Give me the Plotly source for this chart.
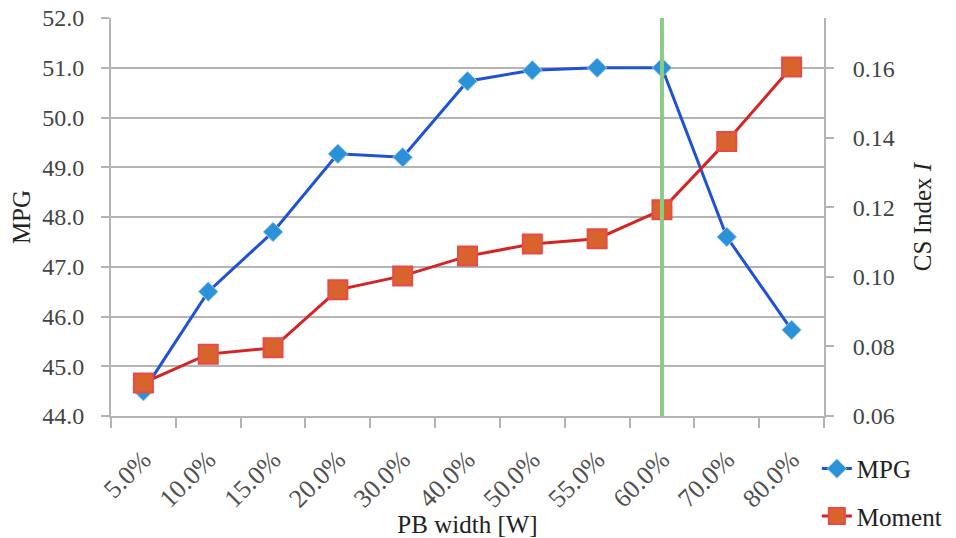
import plotly.graph_objects as go

# PB width categories and the two measured series
pb_width = ["5.0%", "10.0%", "15.0%", "20.0%", "30.0%", "40.0%",
            "50.0%", "55.0%", "60.0%", "70.0%", "80.0%"]
mpg = [44.5, 46.5, 47.7, 49.27, 49.2, 50.73, 50.95, 51.0, 51.0, 47.6, 45.73]
moment = [0.0695, 0.0778, 0.0796, 0.0963, 0.1003, 0.106, 0.1095, 0.111, 0.1193, 0.139, 0.1604]

left_ticks = [44, 45, 46, 47, 48, 49, 50, 51, 52]
right_ticks = [0.06, 0.08, 0.10, 0.12, 0.14, 0.16]
marker_category = "60.0%"

FONT = "Liberation Serif"
GRID = "#b4b4b4"
TICK_COLOR = "#444444"
TITLE_COLOR = "#222222"

fig = go.Figure()

fig.add_trace(go.Scatter(
    x=pb_width, y=mpg, name="MPG", mode="lines+markers",
    line=dict(color="#1f52d6", width=3),
    marker=dict(symbol="diamond", size=15, color="#2a92d6",
                line=dict(color="#9cc7ef", width=1)),
    legendgroup="a",
))
fig.add_trace(go.Scatter(
    x=pb_width, y=moment, name="Moment", mode="lines+markers", yaxis="y2",
    line=dict(color="#d42424", width=3),
    marker=dict(symbol="square", size=19, color="#d8632c",
                line=dict(color="#e84a48", width=2)),
    legendgroup="b",
))

# highlighted category
fig.add_shape(type="line", xref="x", yref="y domain",
              x0=marker_category, x1=marker_category, y0=0, y1=1,
              line=dict(color="#8ccb86", width=4), layer="above")

fig.update_layout(
    width=956, height=538,
    margin=dict(l=111, r=132, t=18, b=122, autoexpand=False),
    paper_bgcolor="white", plot_bgcolor="white",
    font=dict(family=FONT, size=20, color="#333333"),
    showlegend=True,
    legend=dict(x=0.99, y=-0.075, xanchor="left", yanchor="top",
                font=dict(family=FONT, size=25, color=TITLE_COLOR),
                tracegroupgap=12, bgcolor="rgba(0,0,0,0)"),
    xaxis=dict(
        type="category", range=[-0.5, 10.5], tickangle=-45, automargin=False,
        tickson="boundaries", ticks="outside", ticklen=10, tickcolor=GRID,
        tickwidth=2, showgrid=False, showline=True, linecolor=GRID, linewidth=2,
        ticklabelstandoff=16,
        tickfont=dict(family=FONT, size=26, color="#505050"),
        title=dict(text="PB width [W]", font=dict(family=FONT, size=25, color=TITLE_COLOR),
                   standoff=0),
    ),
    yaxis=dict(
        range=[44, 52], tickvals=left_ticks, automargin=False,
        ticktext=[f"{v:.1f}" for v in left_ticks],
        showgrid=True, gridcolor=GRID, gridwidth=2,
        showline=True, linecolor=GRID, linewidth=2, mirror=False,
        ticks="outside", ticklen=8, tickcolor=GRID, tickwidth=2,
        ticklabelstandoff=12, zeroline=False,
        tickfont=dict(family=FONT, size=24, color=TICK_COLOR),
        title=dict(text="MPG", font=dict(family=FONT, size=25, color=TITLE_COLOR),
                   standoff=4),
    ),
    yaxis2=dict(
        overlaying="y", side="right", range=[0.06, 0.1745], automargin=False,
        tickvals=right_ticks, ticktext=[f"{v:.2f}" for v in right_ticks],
        showgrid=False, showline=True, linecolor=GRID, linewidth=2,
        ticks="outside", ticklen=8, tickcolor=GRID, tickwidth=2,
        ticklabelstandoff=14, zeroline=False,
        tickfont=dict(family=FONT, size=24, color=TICK_COLOR),
        title=dict(text="CS Index <i>I</i>", font=dict(family=FONT, size=25, color=TITLE_COLOR),
                   standoff=20),
    ),
)

fig.write_html("out.html")
